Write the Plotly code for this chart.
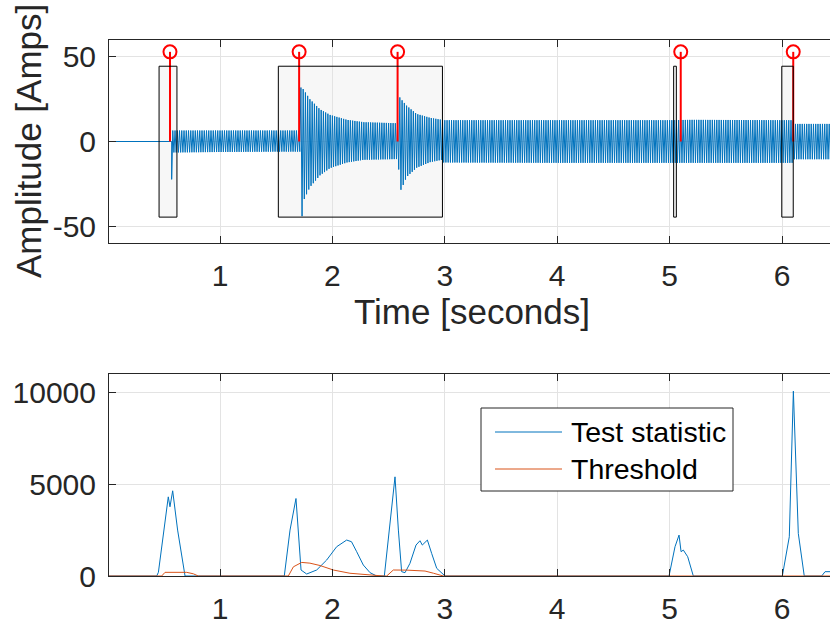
import numpy as np
import plotly.graph_objects as go

# ---------------- data ----------------
# top panel: envelope of the oscillating current (Amps) at key times (s)
env_t  = [0.0, 0.574, 0.576, 1.0, 1.5, 1.712, 1.716, 1.735, 1.75, 1.80, 1.89, 1.98, 2.13, 2.28, 2.57,
          2.588, 2.594, 2.612, 2.66, 2.75, 2.87, 2.975, 2.985, 4.0, 5.0, 5.2, 6.0, 6.098, 6.104, 6.45]
env_hi = [0.0, 0.0, 6.5, 6.5, 6.5, 6.5, 32.0, 31.5, 30.0, 25.0, 19.0, 15.7, 12.8, 11.4, 10.8,
          10.8, 26.6, 25.0, 21.2, 16.3, 14.0, 12.8, 12.6, 12.6, 12.6, 12.8, 12.6, 12.6, 10.4, 10.4]
env_lo = [0.0, 0.0, -6.5, -6.2, -6.0, -6.0, -44.5, -44.0, -34.0, -27.0, -20.0, -15.7, -12.4, -10.8, -10.4,
          -10.4, -28.8, -28.5, -21.0, -15.5, -12.2, -10.8, -12.4, -12.6, -12.6, -12.6, -12.6, -12.6, -10.5, -10.5]
carrier_hz = 50
spike_t = [0.570]
spike_v = [-22.4]

# detected change points (stems) and highlighted regions
stem_t = [0.555, 1.704, 2.580, 5.099, 6.100]
stem_v = [53, 53, 53, 53, 53]
rect_t0 = [0.458, 1.519, 5.036, 5.998]
rect_t1 = [0.617, 2.979, 5.060, 6.100]
rect_lo = -44.7
rect_hi = 44.5

# bottom panel: test statistic and threshold
ts_t = [0.0, 0.437, 0.452, 0.496, 0.540, 0.555, 0.579, 0.623, 0.689,
        1.572, 1.623, 1.676, 1.721, 1.771, 1.86, 1.949, 2.038, 2.127, 2.17, 2.216, 2.275, 2.335, 2.394,
        2.462, 2.512, 2.557, 2.587, 2.616, 2.646, 2.69, 2.744, 2.779, 2.80, 2.845, 2.883, 2.928, 3.002,
        4.995, 5.048, 5.084, 5.102, 5.122, 5.161, 5.211,
        6.003, 6.065, 6.101, 6.145, 6.198, 6.353, 6.383, 6.45]
ts_v = [0, 0, 200, 2140, 4310, 3770, 4640, 2500, 0,
        0, 2500, 4220, 326, 109, 326, 870, 1594, 1957, 1866, 1323, 598, 181, 0,
        0, 2680, 5400, 2500, 235, 181, 690, 1685, 1920, 1685, 1957, 1232, 417, 0,
        0, 1594, 2228, 1323, 1413, 1050, 0,
        0, 2138, 10070, 2318, 0, 0, 235, 235]
th_t = [0.0, 0.481, 0.511, 0.704, 0.763, 0.807, 1.608, 1.653, 1.727, 1.80, 1.89, 2.008, 2.156,
        2.30, 2.453, 2.483, 2.542, 2.66, 2.824, 2.90, 2.987, 6.45]
th_v = [0, 0, 200, 200, 120, 0, 0, 500, 740, 700, 570, 326, 150, 60, 0, 0, 326, 320, 270, 150, 0, 0]

legend_labels = ["Test statistic", "Threshold"]
x_ticks = [1, 2, 3, 4, 5, 6]
y1_ticks = [-50, 0, 50]
y1_ticktext = ["-50", "0", "50"]
y2_ticks = [0, 5000, 10000]
y2_ticktext = ["0", "5000", "10000"]
x_label = "Time [seconds]"
y_label = "Amplitude [Amps]"

# ---------------- build the oscillating signal ----------------
n = int(np.floor(env_t[-1] * 2 * carrier_hz)) + 1
tk = np.arange(n) / (2 * carrier_hz)
hi = np.interp(tk, env_t, env_hi)
lo = np.interp(tk, env_t, env_lo)
sig = np.where(np.arange(n) % 2 == 0, hi, lo)
sig_t = np.concatenate([tk, spike_t])
sig_v = np.concatenate([sig, spike_v])
order = np.argsort(sig_t, kind="stable")
sig_t, sig_v = sig_t[order], sig_v[order]

# ---------------- figure ----------------
W, H = 830, 625
BLUE = "#0072BD"
ORANGE = "#D95319"
AX = "#262626"
GRID = "#e3e3e3"
FONT = "Liberation Sans, Arial, sans-serif"
TICK_SIZE = 30
LABEL_SIZE = 35
LEGEND_SIZE = 28.5


def px(xp):
    return xp / W


def py(yp):
    return 1 - yp / H


fig = go.Figure()

fig.add_trace(go.Scatter(x=sig_t, y=sig_v, mode="lines", line=dict(color=BLUE, width=1),
                         xaxis="x", yaxis="y", showlegend=False, hoverinfo="skip"))

sx, sy = [], []
for t, v in zip(stem_t, stem_v):
    sx += [t, t, None]
    sy += [0, v, None]
fig.add_trace(go.Scatter(x=sx, y=sy, mode="lines", line=dict(color="#ff0000", width=2),
                         xaxis="x", yaxis="y", showlegend=False, hoverinfo="skip"))
fig.add_trace(go.Scatter(x=stem_t, y=stem_v, mode="markers",
                         marker=dict(symbol="circle-open", size=13, color="#ff0000",
                                     line=dict(width=2, color="#ff0000")),
                         xaxis="x", yaxis="y", showlegend=False, hoverinfo="skip"))

fig.add_trace(go.Scatter(x=ts_t, y=ts_v, mode="lines", line=dict(color=BLUE, width=1),
                         xaxis="x2", yaxis="y2", showlegend=False, hoverinfo="skip"))
fig.add_trace(go.Scatter(x=th_t, y=th_v, mode="lines", line=dict(color=ORANGE, width=1),
                         xaxis="x2", yaxis="y2", showlegend=False, hoverinfo="skip"))

shapes = []
for a, b in zip(rect_t0, rect_t1):
    shapes.append(dict(type="rect", xref="x", yref="y", x0=a, x1=b, y0=rect_lo, y1=rect_hi,
                       fillcolor="#f7f7f7", line=dict(width=0), layer="below"))
    shapes.append(dict(type="rect", xref="x", yref="y", x0=a, x1=b, y0=rect_lo, y1=rect_hi,
                       fillcolor="rgba(0,0,0,0)", line=dict(width=1, color="#000000"), layer="above"))

# manual legend box
shapes.append(dict(type="rect", xref="paper", yref="paper", x0=px(481), x1=px(733),
                   y0=py(491), y1=py(408), fillcolor="white", line=dict(width=1, color="#262626"),
                   layer="above"))
for yy, col in [(432, BLUE), (469, ORANGE)]:
    shapes.append(dict(type="line", xref="paper", yref="paper", x0=px(495), x1=px(562),
                       y0=py(yy), y1=py(yy), line=dict(width=1, color=col), layer="above"))

annotations = [
    dict(text=x_label, x=px(472), y=py(311), xref="paper", yref="paper", showarrow=False,
         xanchor="center", yanchor="middle", font=dict(size=LABEL_SIZE, color=AX, family=FONT)),
    dict(text=y_label, x=px(28), y=py(141), xref="paper", yref="paper", showarrow=False,
         textangle=-90, xanchor="center", yanchor="middle",
         font=dict(size=LABEL_SIZE, color=AX, family=FONT)),
]
for lab, yy in zip(legend_labels, [432, 469]):
    annotations.append(dict(text=lab, x=px(569), y=py(yy), xref="paper", yref="paper",
                            showarrow=False, xanchor="left", yanchor="middle",
                            font=dict(size=LEGEND_SIZE, color="#000000", family=FONT)))

xcommon = dict(range=[0.0125, 6.427], tickvals=x_ticks, ticks="inside", ticklen=7,
               tickcolor=AX, showline=True, linecolor=AX, linewidth=1, mirror="ticks",
               showgrid=True, gridcolor=GRID, gridwidth=1, zeroline=False,
               tickfont=dict(size=TICK_SIZE, color=AX, family=FONT), ticklabelstandoff=6,
               domain=[px(109), 1.0])
ycommon = dict(ticks="inside", ticklen=7, tickcolor=AX, showline=True, linecolor=AX, linewidth=1,
               mirror=False, showgrid=True, gridcolor=GRID, gridwidth=1, zeroline=False,
               tickfont=dict(size=TICK_SIZE, color=AX, family=FONT), ticklabelstandoff=6)

fig.update_layout(
    width=W, height=H, margin=dict(l=0, r=0, t=0, b=0, autoexpand=False),
    paper_bgcolor="white", plot_bgcolor="white",
    xaxis=dict(**xcommon, anchor="y"),
    yaxis=dict(**ycommon, anchor="x", range=[-60, 60], tickvals=y1_ticks, ticktext=y1_ticktext,
               domain=[py(243), py(40)]),
    xaxis2=dict(**xcommon, anchor="y2"),
    yaxis2=dict(**ycommon, anchor="x2", range=[0, 11000], tickvals=y2_ticks, ticktext=y2_ticktext,
                domain=[py(576), py(374)]),
    shapes=shapes, annotations=annotations, showlegend=False,
    font=dict(family=FONT, color=AX),
)

fig.write_html("out.html", config={"displayModeBar": False},
               post_script="document.body.style.margin='0';")
